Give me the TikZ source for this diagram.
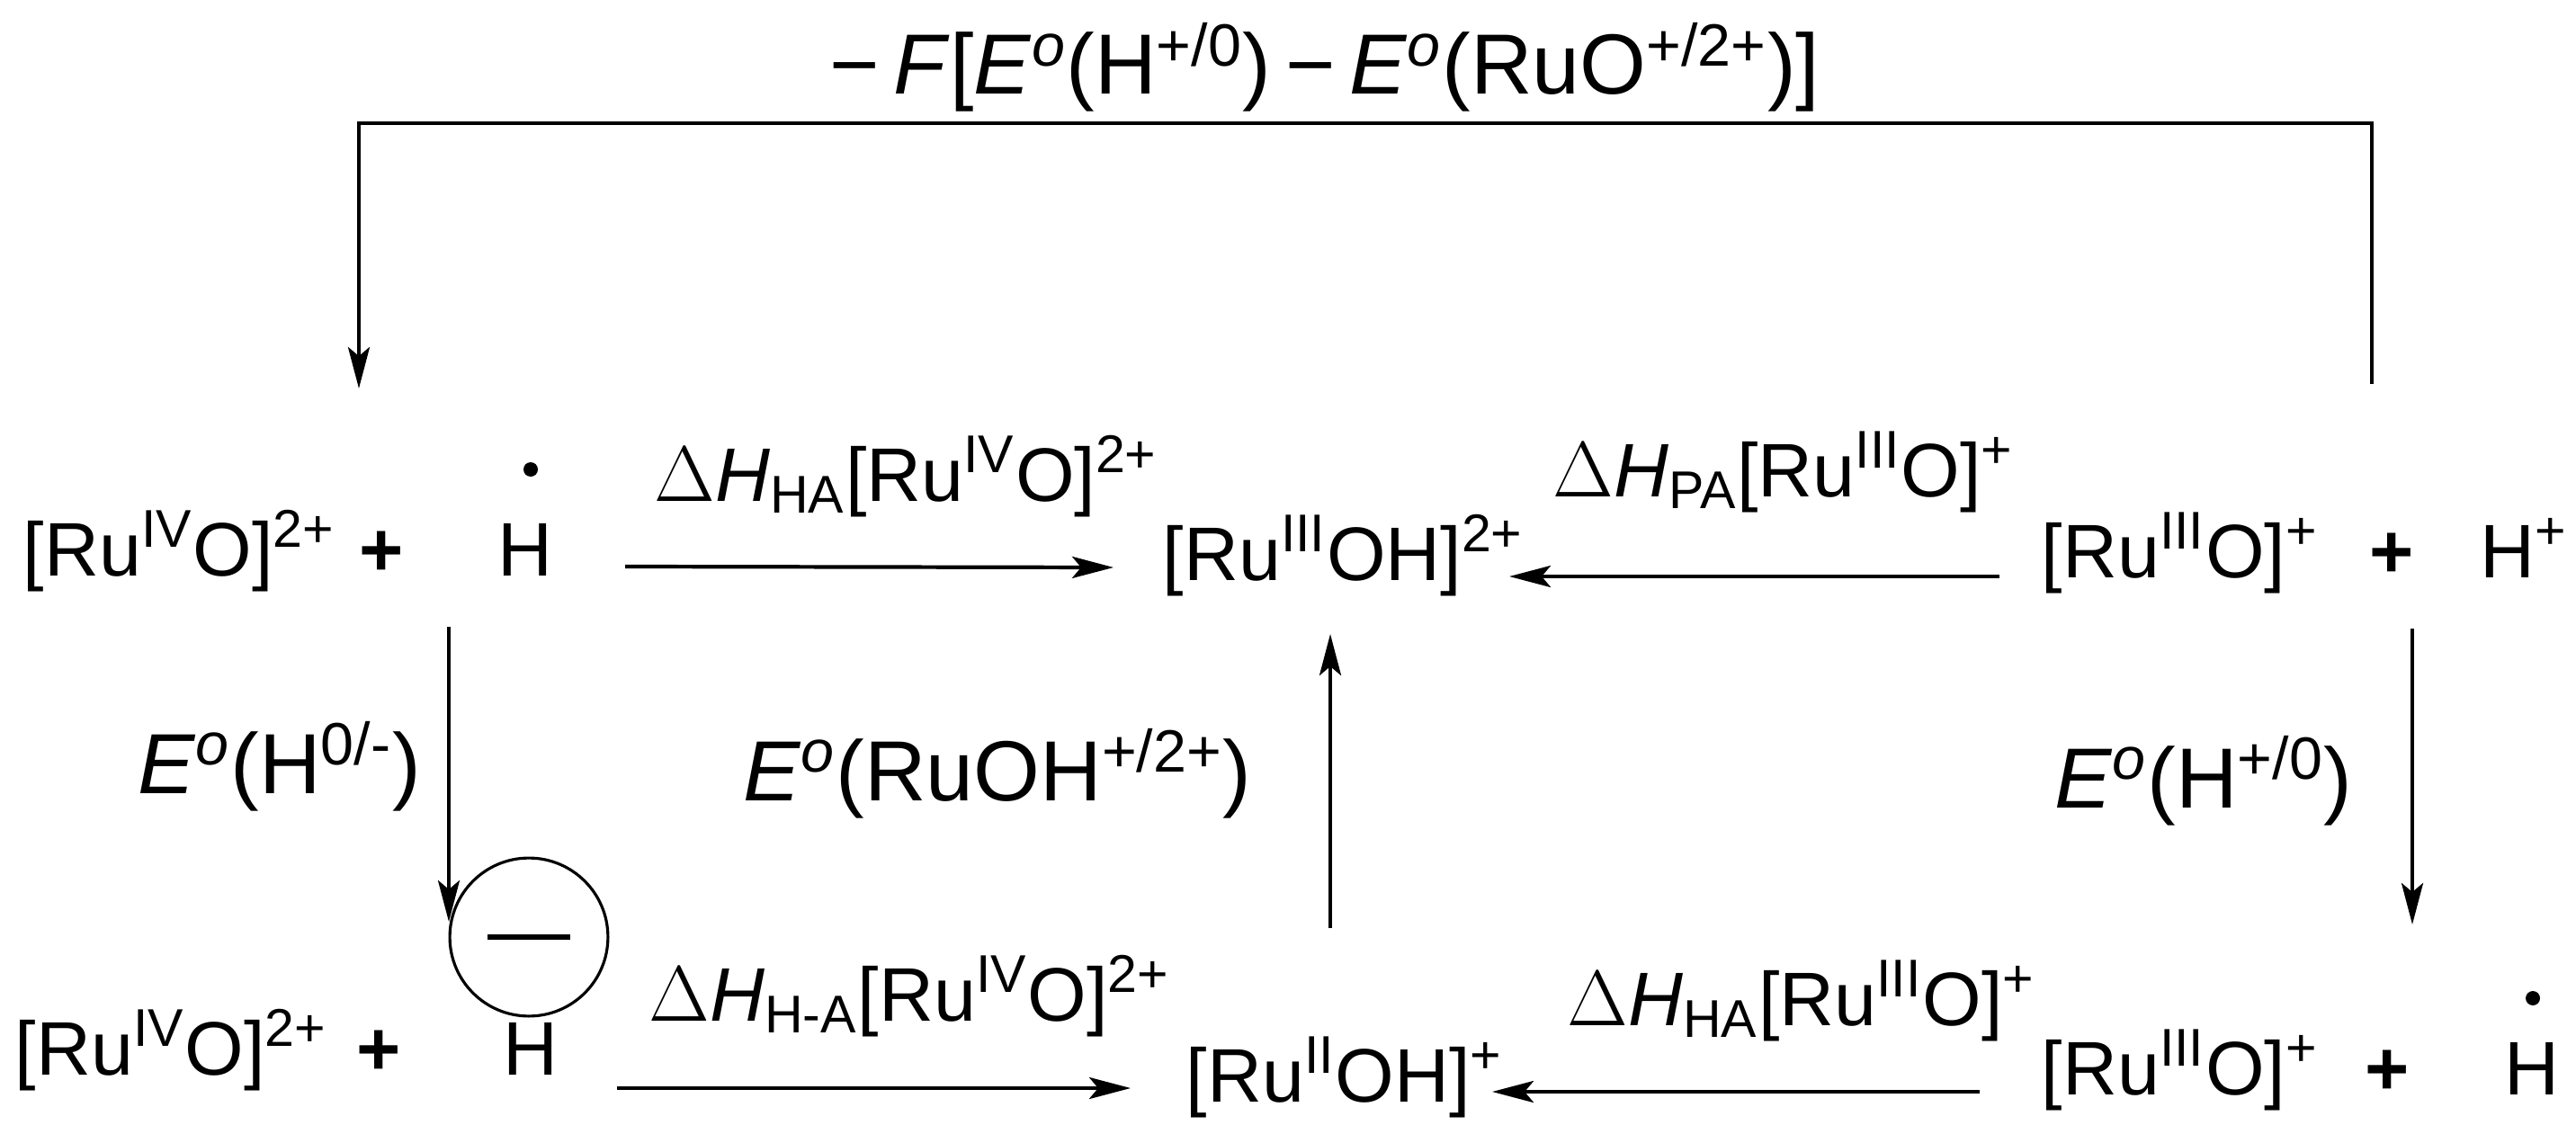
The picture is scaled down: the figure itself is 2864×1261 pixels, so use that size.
\documentclass[tikz,border=0pt]{standalone}
\usepackage{fontspec}
\setmainfont{Liberation Sans}
\usetikzlibrary{arrows.meta}
\newcommand{\up}[1]{\textsuperscript{#1}}
\newcommand{\ital}[1]{\textit{#1}}
\begin{document}
\begin{tikzpicture}[x=0.01cm,y=-0.01cm,
  txt/.style={inner sep=0pt,anchor=base west,font=\fontsize{24}{28}\selectfont},
  lbl/.style={inner sep=0pt,anchor=base west,font=\fontsize{24}{28}\selectfont},
  big/.style={inner sep=0pt,anchor=base west,font=\fontsize{27}{32}\selectfont},
  pl/.style={inner sep=0pt,anchor=base,font=\fontsize{24}{28}\selectfont\bfseries},
  arr/.style={line width=1.2pt,-{Stealth[length=0.46cm,width=0.24cm,inset=0.1cm]}},
  ln/.style={line width=1.2pt}]
\useasboundingbox (0,0) rectangle (2864,1261);
% row 1
\node[txt] (a1) at (25,640) {[Ru\up{IV}O]\up{2+}};
\node[pl] (p1) at (424,640) {+};
\node[txt,anchor=base] (h1) at (584,640) {H};
\fill (590,522) circle (8);
\node[txt] (b1) at (1292,645) {[Ru\up{III}OH]\up{2+}};
\node[txt] (c1) at (2269,642) {[Ru\up{III}O]\up{+}};
\node[pl] (p2) at (2659,642) {+};
\node[txt] (hp) at (2757,642) {H\up{+}};
% row 2
\node[txt] (a2) at (16,1195) {[Ru\up{IV}O]\up{2+}};
\node[pl] (p3) at (421,1195) {+};
\node[txt,anchor=base] (h2) at (590,1195) {H};
\node[circle,draw,line width=0.9pt,minimum size=50,inner sep=0pt] (mc) at (588,1042) {};
\draw[line width=1.5pt] ([xshift=-13]mc.center) -- ([xshift=13]mc.center);
\node[txt] (b2) at (1318,1225) {[Ru\up{II}OH]\up{+}};
\node[txt] (c2) at (2269,1217) {[Ru\up{III}O]\up{+}};
\node[pl] (p4) at (2654,1217) {+};
\node[txt,anchor=base] (h3) at (2815,1217) {H};
\fill (2816,1110) circle (8);
% labels
\node[lbl] (l1) at (727,557) {$\Delta$\ital{H}\textsubscript{HA}[Ru\up{IV}O]\up{2+}};
\node[lbl] (l2) at (1726,552) {$\Delta$\ital{H}\textsubscript{PA}[Ru\up{III}O]\up{+}};
\node[lbl] (l3) at (721,1135) {$\Delta$\ital{H}\textsubscript{H-A}[Ru\up{IV}O]\up{2+}};
\node[lbl] (l4) at (1742,1140) {$\Delta$\ital{H}\textsubscript{HA}[Ru\up{III}O]\up{+}};
\node[big] (e1) at (153,882) {\ital{E}\up{\ital{o}}(H\up{0/-})};
\node[big] (e2) at (826,890) {\ital{E}\up{\ital{o}}(RuOH\up{+/2+})};
\node[big] (e3) at (2284,898) {\ital{E}\up{\ital{o}}(H\up{+/0})};
\node[big] (top) at (922,105) {−\,\ital{F}[\ital{E}\up{\ital{o}}(H\up{+/0})\,−\,\ital{E}\up{\ital{o}}(RuO\up{+/2+})]};
% arrow coordinates
\coordinate (r1s) at (695,630); \coordinate (r1e) at (1238,631);
\coordinate (r2s) at (2223,641); \coordinate (r2e) at (1678,641);
\coordinate (r3s) at (686,1210); \coordinate (r3e) at (1257,1210);
\coordinate (r4s) at (2201,1214); \coordinate (r4e) at (1659,1214);
\coordinate (v1s) at (499,697); \coordinate (v1e) at (499,1025);
\coordinate (v2s) at (2682,699); \coordinate (v2e) at (2682,1028);
\coordinate (v3s) at (1479,1032); \coordinate (v3e) at (1479,705);
\coordinate (t1) at (2637,427); \coordinate (t2) at (2637,137);
\coordinate (t3) at (399,137); \coordinate (t4) at (399,432);
\draw[arr] (r1s) -- (r1e);
\draw[arr] (r2s) -- (r2e);
\draw[arr] (r3s) -- (r3e);
\draw[arr] (r4s) -- (r4e);
\draw[arr] (v1s) -- (v1e);
\draw[arr] (v2s) -- (v2e);
\draw[arr] (v3s) -- (v3e);
\draw[arr] (t1) -- (t2) -- (t3) -- (t4);
\end{tikzpicture}
\end{document}
